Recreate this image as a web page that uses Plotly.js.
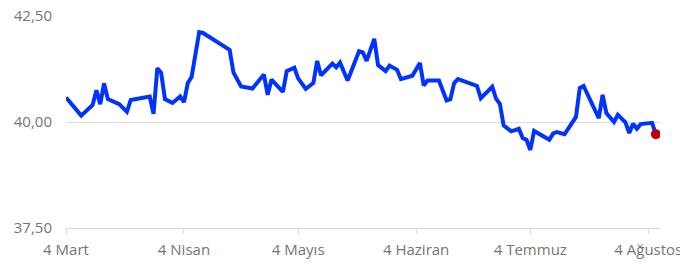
<!DOCTYPE html>
<html>
<head>
<meta charset="utf-8">
<script src="https://cdn.plot.ly/plotly-3.0.1.min.js"></script>
<style>
html,body{margin:0;padding:0;background:#fff;}
#chart{width:680px;height:268px;}
</style>
</head>
<body>
<div id="chart"></div>
<script>
var dates = [
  "2025-03-04","2025-03-06","2025-03-08","2025-03-11","2025-03-12","2025-03-13","2025-03-14","2025-03-15",
  "2025-03-18","2025-03-20","2025-03-21","2025-03-26","2025-03-27","2025-03-28","2025-03-29","2025-03-30",
  "2025-04-01","2025-04-03","2025-04-04","2025-04-05","2025-04-06","2025-04-08","2025-04-09","2025-04-16",
  "2025-04-17","2025-04-19","2025-04-22","2025-04-25","2025-04-26","2025-04-27","2025-04-30","2025-05-01",
  "2025-05-03","2025-05-04","2025-05-06","2025-05-08","2025-05-09","2025-05-10","2025-05-13","2025-05-14",
  "2025-05-15","2025-05-17","2025-05-20","2025-05-21","2025-05-22","2025-05-24","2025-05-25","2025-05-27",
  "2025-05-28","2025-05-30","2025-05-31","2025-06-03","2025-06-05","2025-06-06","2025-06-07","2025-06-10",
  "2025-06-12","2025-06-13","2025-06-14","2025-06-15","2025-06-20","2025-06-21","2025-06-24","2025-06-25",
  "2025-06-26","2025-06-27","2025-06-29","2025-07-01","2025-07-02","2025-07-03","2025-07-04","2025-07-05",
  "2025-07-09","2025-07-10","2025-07-11","2025-07-13","2025-07-16","2025-07-17","2025-07-18","2025-07-22",
  "2025-07-23","2025-07-24","2025-07-26","2025-07-27","2025-07-29","2025-07-30","2025-07-31","2025-08-01",
  "2025-08-02","2025-08-05","2025-08-06"
];
var values = [
  40.58,40.37,40.15,40.40,40.75,40.42,40.91,40.54,
  40.42,40.24,40.52,40.60,40.19,41.27,41.16,40.54,
  40.45,40.60,40.47,40.92,41.06,42.12,42.10,41.70,
  41.17,40.84,40.79,41.12,40.64,41.00,40.71,41.20,
  41.28,41.03,40.78,40.92,41.44,41.10,41.38,41.29,
  41.40,40.98,41.67,41.64,41.44,41.96,41.34,41.20,
  41.33,41.23,41.01,41.09,41.39,40.86,40.98,40.98,
  40.51,40.54,40.92,41.01,40.85,40.56,40.83,40.55,
  40.43,39.92,39.78,39.84,39.62,39.58,39.34,39.79,
  39.58,39.73,39.76,39.71,40.12,40.80,40.85,40.09,
  40.64,40.21,40.00,40.17,39.99,39.74,39.96,39.84,
  39.95,39.98,39.71
];
var tickDates = ["2025-03-04","2025-04-04","2025-05-04","2025-06-04","2025-07-04","2025-08-04"];
var tickLabels = ["4 Mart","4 Nisan","4 Mayıs","4 Haziran","4 Temmuz","4 Ağustos"];
var yTicks = [37.5, 40, 42.5];

var lastDate = dates[dates.length - 1];
var lastValue = values[values.length - 1];

var traces = [
  {
    x: dates, y: values, type: "scatter", mode: "lines",
    line: {color: "#0033ff", width: 4},
    hoverinfo: "skip"
  },
  {
    x: [lastDate], y: [lastValue], type: "scatter", mode: "markers",
    marker: {color: "#c00000", size: 10},
    hoverinfo: "skip"
  }
];

var layout = {
  width: 680, height: 268,
  margin: {l: 66, r: 20, t: 16, b: 40},
  paper_bgcolor: "#ffffff", plot_bgcolor: "#ffffff",
  showlegend: false,
  separators: ",.",
  font: {family: "'Open Sans', sans-serif", size: 15, color: "#757575"},
  xaxis: {
    type: "date",
    range: ["2025-03-04", "2025-08-07 02:00"],
    tickmode: "array", tickvals: tickDates, ticktext: tickLabels,
    showgrid: false, zeroline: false,
    showline: true, linecolor: "#d9d9d9", linewidth: 1,
    ticks: "outside", ticklen: 5, tickcolor: "#d9d9d9", tickwidth: 1,
    ticklabelstandoff: 3,
    ticklabeloverflow: "allow",
    tickfont: {size: 15, color: "#757575"},
    fixedrange: true
  },
  yaxis: {
    range: [37.5, 42.5],
    tickmode: "array", tickvals: yTicks,
    tickformat: ".2f",
    showgrid: true, gridcolor: "#dddddd", gridwidth: 1,
    zeroline: false, showline: false,
    ticks: "", ticklabelstandoff: 13,
    tickfont: {size: 15, color: "#757575"},
    fixedrange: true
  }
};

Plotly.newPlot("chart", traces, layout, {staticPlot: true, displayModeBar: false});
</script>
</body>
</html>
